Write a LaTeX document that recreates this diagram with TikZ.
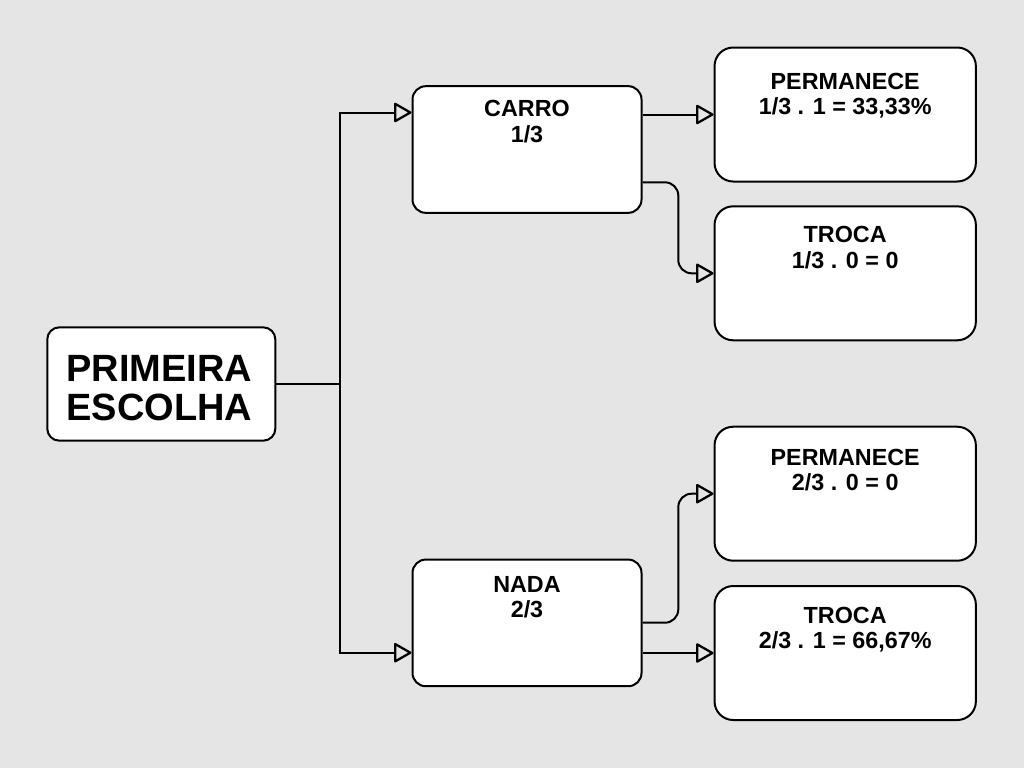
\documentclass[tikz,border=0pt]{standalone}
\usepackage{fontspec}
\setmainfont{Liberation Sans}
\usetikzlibrary{arrows.meta}
\definecolor{bgc}{HTML}{E5E5E5}
\tikzset{
  box/.style={draw=black, fill=white, line width=1.5pt, inner sep=0pt},
  smallbox/.style={box, rounded corners=10pt, minimum width=171.75pt, minimum height=95pt},
  bigbox/.style={box, rounded corners=14pt, minimum width=196pt, minimum height=100.5pt},
  lbl/.style={anchor=base, font=\bfseries\fontsize{17.5}{18.5}\selectfont, inner sep=0pt},
  biglbl/.style={anchor=base, font=\bfseries\fontsize{28.5}{29}\selectfont, inner sep=0pt},
  conn/.style={line width=1.5pt, draw=black},
  arr/.style={conn, -{Triangle[open,round,length=14pt,width=15.5pt,line width=1.7pt]}},
}
\begin{document}
\begin{tikzpicture}[x=0.75pt,y=-0.75pt]
\fill[bgc] (0,0) rectangle (1024,768);
\useasboundingbox (0,0) rectangle (1024,768);

% boxes
\node[box, rounded corners=9pt, minimum width=171pt, minimum height=85pt] (prim) at (161.3,384) {};
\node[smallbox] (carro) at (527,149.5) {};
\node[smallbox] (nada) at (527,622.9) {};
\node[bigbox] (perm1) at (845.2,114.5) {};
\node[bigbox] (troca1) at (845.2,273.3) {};
\node[bigbox] (perm2) at (845.2,493.7) {};
\node[bigbox] (troca2) at (845.2,653) {};

% texts
\node[biglbl] (t1) at (159.5,381.7) {PRIMEIRA};
\node[biglbl] (t2) at (159.5,420) {ESCOLHA};
\node[lbl] (c1) at (527,116) {CARRO};
\node[lbl] (c2) at (527,142.3) {1/3};
\node[lbl] (n1) at (527,592.3) {NADA};
\node[lbl] (n2) at (527,617.7) {2/3};
\node[lbl] (p1a) at (845.2,89.3) {PERMANECE};
\node[lbl] (p1b) at (845.2,114) {1/3 . 1 = 33,33\%};
\node[lbl] (r1a) at (845.2,242.7) {TROCA};
\node[lbl] (r1b) at (845.2,268.3) {1/3 . 0 = 0};
\node[lbl] (p2a) at (845.2,465.7) {PERMANECE};
\node[lbl] (p2b) at (845.2,490.7) {2/3 . 0 = 0};
\node[lbl] (r2a) at (845.2,623.3) {TROCA};
\node[lbl] (r2b) at (845.2,648.3) {2/3 . 1 = 66,67\%};

% connectors
\coordinate (j) at (340,384);
\draw[conn] (prim.east) -- (j);
\draw[arr] (j) |- (carro.west |- 0,112.5);
\draw[arr] (j) |- (nada.west |- 0,652.7);
\draw[arr] (carro.east |- perm1.west) -- (perm1.west);
\draw[arr, rounded corners=10pt] (carro.east |- 0,182.3) -| (678.3,230) |- (troca1.west);
\draw[arr, rounded corners=10pt] (nada.east |- 0,622.7) -| (678.3,560) |- (perm2.west);
\draw[arr] (nada.east |- troca2.west) -- (troca2.west);
\end{tikzpicture}
\end{document}
